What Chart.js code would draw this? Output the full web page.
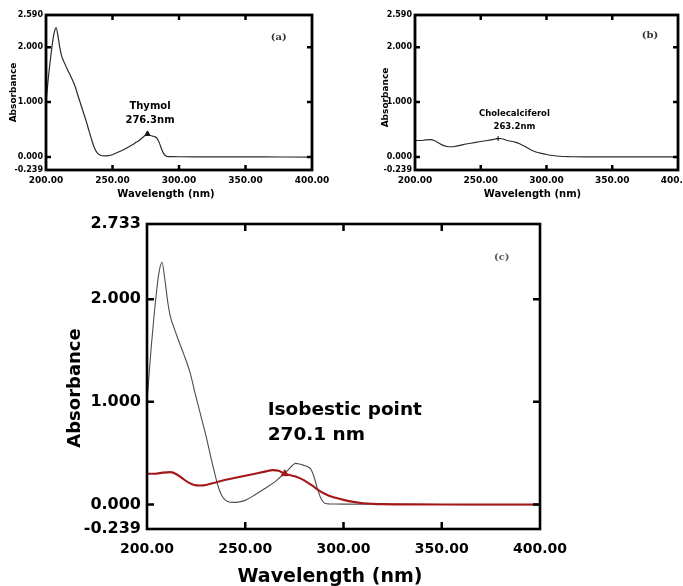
<!DOCTYPE html>
<html>
<head>
<meta charset="utf-8">
<title>UV spectra - thymol and cholecalciferol</title>
<script src="https://cdn.jsdelivr.net/npm/chart.js@4.4.1/dist/chart.umd.min.js"></script>
<style>
  html, body { margin: 0; padding: 0; background: #fff; }
  #wrap { position: relative; width: 683px; height: 586px; overflow: hidden; }
  canvas { position: absolute; }
  #chartA { left: 0; top: 0; }
  #chartB { left: 340px; top: 0; }
  #chartC { left: 0; top: 200px; }
</style>
</head>
<body>
<div id="wrap">
  <canvas id="chartA" width="340" height="200"></canvas>
  <canvas id="chartB" width="343" height="200"></canvas>
  <canvas id="chartC" width="683" height="386"></canvas>
</div>
<script>
// --- Spectra (wavelength in nm, absorbance) ---
const thymolNm  = [200, 201, 202, 203.4, 205, 206, 207.6, 209.3, 210.5, 211.9, 213.6, 216, 218.6, 222, 224, 226, 228, 230.5, 232.5, 234.5, 236, 237.5, 239, 241, 244, 247, 250, 255, 260, 265, 268, 270, 272, 274, 275.6, 277.5, 280, 282, 283.5, 285, 286.8, 288.5, 290.2, 292, 295, 300, 320, 350, 380, 400];
const thymolAbs = [1.00, 1.25, 1.50, 1.80, 2.10, 2.25, 2.36, 2.16, 1.98, 1.83, 1.73, 1.60, 1.47, 1.28, 1.12, 0.97, 0.82, 0.63, 0.46, 0.30, 0.19, 0.11, 0.06, 0.03, 0.02, 0.025, 0.04, 0.095, 0.155, 0.22, 0.27, 0.30, 0.34, 0.38, 0.40, 0.395, 0.38, 0.365, 0.34, 0.27, 0.15, 0.06, 0.015, 0.006, 0.004, 0.003, 0.002, 0.0, -0.002, -0.003];

const choleNm  = [200, 204, 208, 212, 215, 218, 221, 224, 227, 230, 235, 240, 245, 250, 255, 260, 264, 267, 270, 273, 276, 280, 284, 288, 292, 296, 300, 305, 310, 315, 320, 330, 350, 400];
const choleAbs = [0.30, 0.30, 0.31, 0.315, 0.295, 0.255, 0.215, 0.19, 0.185, 0.19, 0.215, 0.24, 0.26, 0.28, 0.30, 0.32, 0.335, 0.328, 0.30, 0.285, 0.27, 0.235, 0.185, 0.13, 0.09, 0.065, 0.045, 0.025, 0.012, 0.006, 0.003, 0.001, 0.0, 0.0];

// marked points
const thymolPeak = { nm: [276.3], abs: [0.42] };
const cholePeak  = { nm: [263.2], abs: [0.335] };
const isoPoint   = { nm: [270.1], abs: [0.30] };

// axis ticks
const xTicks   = [200, 250, 300, 350, 400];
const yTicksAB = [-0.239, 0, 1, 2, 2.59];
const yTicksC  = [-0.239, 0, 1, 2, 2.733];

const FONT = 'DejaVu Sans';
const toXY = (xs, ys) => xs.map((v, i) => ({ x: v, y: ys[i] }));

// --- Frame, inward ticks, notes and axis titles ---
const panelDecor = {
    id: 'panelDecor',
    afterDatasetsDraw(chart, args, opts) {
        const { ctx, chartArea: a, scales: { x, y } } = chart;
        ctx.save();
        ctx.strokeStyle = '#000';
        ctx.lineWidth = opts.tickWidth;
        ctx.beginPath();
        x.ticks.forEach(t => {
            if (t.value <= x.min || t.value >= x.max) return;
            const px = x.getPixelForValue(t.value);
            ctx.moveTo(px, a.top); ctx.lineTo(px, a.top + opts.tickLen);
            ctx.moveTo(px, a.bottom); ctx.lineTo(px, a.bottom - opts.tickLen);
        });
        y.ticks.forEach(t => {
            if (t.value <= y.min || t.value >= y.max) return;
            const py = y.getPixelForValue(t.value);
            ctx.moveTo(a.left, py); ctx.lineTo(a.left + opts.tickLen, py);
            ctx.moveTo(a.right, py); ctx.lineTo(a.right - opts.tickLen, py);
        });
        ctx.stroke();
        ctx.lineWidth = opts.frameWidth;
        ctx.strokeRect(a.left, a.top, a.right - a.left, a.bottom - a.top);

        (opts.notes || []).forEach(n => {
            ctx.font = n.font;
            ctx.fillStyle = n.color || '#000';
            ctx.textAlign = n.align || 'center';
            ctx.textBaseline = n.baseline || 'middle';
            ctx.fillText(n.text, x.getPixelForValue(n.x), y.getPixelForValue(n.y));
        });

        const xt = opts.xTitle, yt = opts.yTitle;
        ctx.fillStyle = '#000';
        ctx.textAlign = 'center';
        ctx.textBaseline = 'middle';
        ctx.font = xt.font;
        ctx.fillText(xt.text, (a.left + a.right) / 2 + xt.dx, a.bottom + xt.dy);
        ctx.translate(yt.x, (a.top + a.bottom) / 2 + yt.dy);
        ctx.rotate(-Math.PI / 2);
        ctx.font = yt.font;
        ctx.fillText(yt.text, 0, 0);
        ctx.restore();
    }
};

// --- One spectrum panel ---
function makePanel(id, cfg) {
    return new Chart(document.getElementById(id), {
        type: 'line',
        data: { datasets: cfg.datasets },
        plugins: [panelDecor],
        options: {
            responsive: false,
            animation: false,
            devicePixelRatio: 1,
            layout: { padding: { top: cfg.top, right: cfg.right, left: 0, bottom: 0 } },
            plugins: {
                legend: { display: false },
                tooltip: { enabled: false },
                panelDecor: cfg.decor
            },
            scales: {
                x: {
                    type: 'linear',
                    min: 200,
                    max: 400,
                    grid: { display: false, drawTicks: false },
                    border: { display: false },
                    afterBuildTicks: s => { s.ticks = xTicks.map(v => ({ value: v })); },
                    afterFit: s => { s.height = cfg.xAxisH; s.paddingLeft = 0; s.paddingRight = 0; },
                    ticks: {
                        autoSkip: false,
                        maxRotation: 0,
                        padding: cfg.xPad,
                        color: '#000',
                        font: { family: FONT, size: cfg.xSize, weight: 'bold' },
                        callback: v => Number(v).toFixed(2)
                    }
                },
                y: {
                    type: 'linear',
                    min: cfg.yTicks[0],
                    max: cfg.yTicks[cfg.yTicks.length - 1],
                    grid: { display: false, drawTicks: false },
                    border: { display: false },
                    afterBuildTicks: s => { s.ticks = cfg.yTicks.map(v => ({ value: v })); },
                    afterFit: s => { s.width = cfg.yAxisW; s.paddingTop = 0; s.paddingBottom = 0; },
                    ticks: {
                        autoSkip: false,
                        padding: cfg.yPad,
                        color: '#000',
                        font: { family: FONT, size: cfg.ySize, weight: 'bold' },
                        callback: v => Number(v).toFixed(3)
                    }
                }
            }
        }
    });
}

function spectrumLine(xs, ys, color, width) {
    return {
        data: toXY(xs, ys),
        borderColor: color,
        borderWidth: width,
        pointRadius: 0,
        fill: false,
        cubicInterpolationMode: 'monotone'
    };
}

function marker(pt, style, color, radius) {
    return {
        data: toXY(pt.nm, pt.abs),
        showLine: false,
        pointStyle: style,
        pointRadius: radius,
        backgroundColor: color,
        borderColor: color,
        borderWidth: 1
    };
}

// --- (a) Thymol ---
makePanel('chartA', {
    top: 15, right: 28, yAxisW: 46, xAxisH: 30,
    xPad: 5, yPad: 3, xSize: 9, ySize: 8,
    yTicks: yTicksAB,
    datasets: [
        marker(thymolPeak, 'triangle', '#111', 3),
        spectrumLine(thymolNm, thymolAbs, '#2b2b2b', 1.2)
    ],
    decor: {
        tickWidth: 2.5, tickLen: 5, frameWidth: 2.8,
        xTitle: { text: 'Wavelength (nm)', font: `bold 10px "${FONT}"`, dx: -13, dy: 24 },
        yTitle: { text: 'Absorbance', font: `bold 9px "${FONT}"`, x: 14, dy: 0 },
        notes: [
            { text: 'Thymol', x: 278.2, y: 0.92, font: `bold 10px "${FONT}"` },
            { text: '276.3nm', x: 278.2, y: 0.67, font: `bold 10px "${FONT}"` },
            { text: '(a)', x: 375, y: 2.19, font: 'bold 10px "DejaVu Serif"', color: '#333' }
        ]
    }
});

// --- (b) Cholecalciferol ---
makePanel('chartB', {
    top: 15, right: 2, yAxisW: 75, xAxisH: 30,
    xPad: 5, yPad: 3, xSize: 9, ySize: 8,
    yTicks: yTicksAB,
    datasets: [
        marker(cholePeak, 'cross', '#111', 2.5),
        spectrumLine(choleNm, choleAbs, '#2b2b2b', 1.1)
    ],
    decor: {
        tickWidth: 2.5, tickLen: 5, frameWidth: 2.8,
        xTitle: { text: 'Wavelength (nm)', font: `bold 10px "${FONT}"`, dx: -14, dy: 24 },
        yTitle: { text: 'Absorbance', font: `bold 9px "${FONT}"`, x: 46, dy: 5 },
        notes: [
            { text: 'Cholecalciferol', x: 275.6, y: 0.78, font: `bold 8.5px "${FONT}"` },
            { text: '263.2nm', x: 275.6, y: 0.545, font: `bold 8.5px "${FONT}"` },
            { text: '(b)', x: 378.7, y: 2.21, font: 'bold 10px "DejaVu Serif"', color: '#333' }
        ]
    }
});

// --- (c) Overlay with isobestic point ---
makePanel('chartC', {
    top: 24, right: 143, yAxisW: 147, xAxisH: 57,
    xPad: 12, yPad: 6, xSize: 14, ySize: 16,
    yTicks: yTicksC,
    datasets: [
        marker(isoPoint, 'triangle', '#a31818', 4),
        spectrumLine(choleNm, choleAbs, '#a31818', 2.1),
        spectrumLine(thymolNm, thymolAbs, '#4d4d4d', 1.1)
    ],
    decor: {
        tickWidth: 2.5, tickLen: 7, frameWidth: 2.6,
        xTitle: { text: 'Wavelength (nm)', font: `bold 19px "${FONT}"`, dx: -13.5, dy: 47.7 },
        yTitle: { text: 'Absorbance', font: `bold 18px "${FONT}"`, x: 75, dy: 11.5 },
        notes: [
            { text: 'Isobestic point', x: 261.4, y: 0.87, align: 'left', baseline: 'alphabetic', font: `bold 18.5px "${FONT}"` },
            { text: '270.1 nm', x: 261.4, y: 0.626, align: 'left', baseline: 'alphabetic', font: `bold 18.5px "${FONT}"` },
            { text: '(c)', x: 380.5, y: 2.41, font: 'bold 10px "DejaVu Serif"', color: '#555' }
        ]
    }
});
</script>
</body>
</html>
